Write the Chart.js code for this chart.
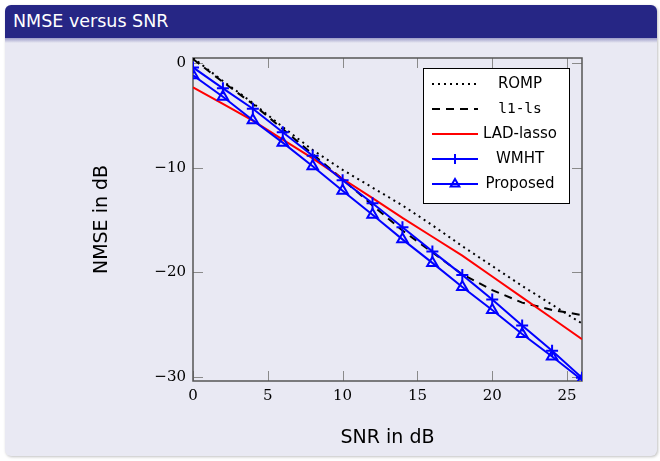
<!DOCTYPE html>
<html>
<head>
<meta charset="utf-8">
<script src="https://cdn.jsdelivr.net/npm/chart.js@4"></script>
<style>
    body {
        margin: 0;
        width: 660px;
        height: 461px;
        background: #fff;
        position: relative;
        overflow: hidden;
        font-family: "DejaVu Sans", sans-serif;
    }

    .block {
        position: absolute;
        left: 5px;
        top: 5px;
        width: 652px;
        height: 451px;
        background: #e9e9f3;
        border-radius: 6px;
        box-shadow: 1px 1px 3px rgba(0, 0, 0, 0.25);
        overflow: hidden;
    }

    .block-head {
        position: absolute;
        left: 0;
        top: 0;
        width: 100%;
        height: 33px;
        background: #262685;
        color: #fff;
        font-size: 17.5px;
    }

    .block-head span {
        position: absolute;
        left: 8px;
        top: 6px;
    }

    .block-shade {
        position: absolute;
        left: 0;
        top: 33px;
        width: 100%;
        height: 5px;
        background: linear-gradient(#9c9cc8, #e9e9f3);
    }

    #wrap {
        position: absolute;
        left: 0;
        top: 0;
        width: 660px;
        height: 461px;
    }
</style>
</head>
<body>
<div class="block">
    <div class="block-head"><span>NMSE versus SNR</span></div>
    <div class="block-shade"></div>
</div>
<div id="wrap"><canvas id="nmse-chart"></canvas></div>

<script>
// data ------------------------------------------------------------------
let snr = [0, 2, 4, 6, 8, 10, 12, 14, 16, 18, 20, 22, 24, 26];
let romp = [0.5, -1.7, -3.8, -6.1, -8.3, -10.2, -11.9, -13.6, -15.5, -17.5, -19.4, -21.3, -23.1, -24.9];
let l1ls = [0.4, -1.8, -3.9, -6.3, -8.7, -11.1, -13.6, -16.0, -18.1, -20.2, -21.7, -22.9, -23.6, -24.1];
let ladLasso = [-2.3, -3.9, -5.5, -7.3, -9.1, -11.05, -12.9, -14.8, -16.6, -18.4, -20.4, -22.4, -24.4, -26.4];
let wmht = [-0.4, -2.4, -4.35, -6.6, -8.85, -11.2, -13.4, -15.7, -18.0, -20.25, -22.6, -25.1, -27.5, -30.1];
let proposed = [-1.15, -3.2, -5.45, -7.6, -9.85, -12.2, -14.5, -16.85, -19.1, -21.4, -23.6, -25.9, -28.05, -30.3];

let seriesNames = ['ROMP', 'l1-ls', 'LAD-lasso', 'WMHT', 'Proposed'];
let xTicks = [0, 5, 10, 15, 20, 25];
let yTicks = [0, -10, -20, -30];
// data END================================================================


function points(values) {
    return snr.map((x, i) => ({ x: x, y: values[i] }));
}


function tickLabel(v) {
    return v < 0 ? '\u2212' + Math.abs(v) : String(v);
}


// frame with inward ticks on all four sides, like pgfplots
let pgfFrame = {
    id: 'pgfFrame',
    beforeDatasetsDraw(chart) {
        let ctx = chart.ctx;
        let a = chart.chartArea;
        let xs = chart.scales.x;
        let ys = chart.scales.y;
        ctx.save();
        ctx.strokeStyle = '#8a8a8a';
        ctx.lineWidth = 1;
        ctx.beginPath();
        xTicks.forEach(v => {
            let px = Math.round(xs.getPixelForValue(v)) + 0.5;
            ctx.moveTo(px, a.bottom); ctx.lineTo(px, a.bottom - 10);
            ctx.moveTo(px, a.top); ctx.lineTo(px, a.top + 10);
        });
        yTicks.forEach(v => {
            let py = Math.round(ys.getPixelForValue(v)) + 0.5;
            ctx.moveTo(a.left, py); ctx.lineTo(a.left + 10, py);
            ctx.moveTo(a.right, py); ctx.lineTo(a.right - 10, py);
        });
        ctx.stroke();
        ctx.strokeStyle = '#555';
        ctx.lineWidth = 1.5;
        ctx.strokeRect(a.left, a.top, a.right - a.left, a.bottom - a.top);
        ctx.restore();
    }
};


// legend box in the upper right corner of the plot
let pgfLegend = {
    id: 'pgfLegend',
    afterDraw(chart) {
        let ctx = chart.ctx;
        let a = chart.chartArea;
        let right = a.right - 13;
        let left = right - 146;
        let top = a.top + 10;
        ctx.save();
        ctx.fillStyle = '#fff';
        ctx.fillRect(left, top, 146, 135);
        ctx.strokeStyle = '#000';
        ctx.lineWidth = 1;
        ctx.strokeRect(left + 0.5, top + 0.5, 146, 135);

        chart.data.datasets.forEach((ds, i) => {
            let y = top + 16 + i * 25;
            ctx.strokeStyle = ds.borderColor;
            ctx.lineWidth = ds.borderWidth;
            ctx.setLineDash(ds.borderDash || []);
            ctx.beginPath();
            ctx.moveTo(left + 9, y);
            ctx.lineTo(left + 55, y);
            ctx.stroke();
            ctx.setLineDash([]);
            if (ds.pointRadius > 0) {
                ctx.fillStyle = ds.pointBackgroundColor;
                ctx.lineWidth = ds.pointBorderWidth;
                Chart.helpers.drawPoint(ctx, { pointStyle: ds.pointStyle, radius: 5, borderWidth: ds.pointBorderWidth, rotation: 0 }, left + 32, y);
            }
            ctx.fillStyle = '#000';
            ctx.textAlign = 'center';
            ctx.textBaseline = 'middle';
            ctx.font = ds.label === 'l1-ls' ? '14.5px "DejaVu Sans Mono"' : '15px "DejaVu Sans"';
            ctx.fillText(ds.label, left + 97, y);
        });
        ctx.restore();
    }
};


function lineSet(i, values, color, dash, style, order) {
    return {
        label: seriesNames[i],
        data: points(values),
        borderColor: color,
        borderWidth: 2,
        borderDash: dash,
        pointStyle: style || 'circle',
        pointRadius: style ? 6 : 0,
        pointBorderWidth: 2,
        pointBorderColor: color,
        pointBackgroundColor: 'rgba(0,0,0,0)',
        tension: 0,
        order: order
    };
}


let ctx = document.getElementById('nmse-chart').getContext('2d');
new Chart(ctx, {
    type: 'line',
    data: {
        datasets: [
            lineSet(0, romp, '#000', [2, 4], null, 4),
            lineSet(1, l1ls, '#000', [8, 6], null, 3),
            lineSet(2, ladLasso, '#ff0000', [], null, 2),
            lineSet(3, wmht, '#0000ff', [], 'cross', 1),
            lineSet(4, proposed, '#0000ff', [], 'triangle', 0)
        ]
    },
    options: {
        responsive: true,
        maintainAspectRatio: false,
        animation: false,
        devicePixelRatio: 1,
        layout: { padding: { top: 58, right: 78, left: 0, bottom: 0 } },
        plugins: { legend: { display: false }, tooltip: { enabled: false } },
        scales: {
            x: {
                type: 'linear',
                min: 0,
                max: 26,
                afterBuildTicks: s => { s.ticks = xTicks.map(v => ({ value: v })); },
                afterFit: s => { s.height = 80; },
                grid: { display: false, drawTicks: false },
                border: { display: false },
                ticks: { padding: 6, color: '#000', autoSkip: false, maxRotation: 0, font: { family: 'DejaVu Serif', size: 15 }, callback: tickLabel },
                title: { display: true, text: 'SNR in dB', color: '#000', font: { family: 'DejaVu Sans', size: 19 }, padding: { top: 0, bottom: 12 } }
            },
            y: {
                type: 'linear',
                min: -30.4,
                max: 0.5,
                afterBuildTicks: s => { s.ticks = yTicks.map(v => ({ value: v })); },
                afterFit: s => { s.width = 193; },
                grid: { display: false, drawTicks: false },
                border: { display: false },
                ticks: { padding: 7, color: '#000', autoSkip: false, font: { family: 'DejaVu Serif', size: 15 }, callback: tickLabel },
                title: { display: true, text: 'NMSE in dB', color: '#000', font: { family: 'DejaVu Sans', size: 19 }, padding: { top: 91, bottom: 0 } }
            }
        }
    },
    plugins: [pgfFrame, pgfLegend]
});
</script>
</body>
</html>
